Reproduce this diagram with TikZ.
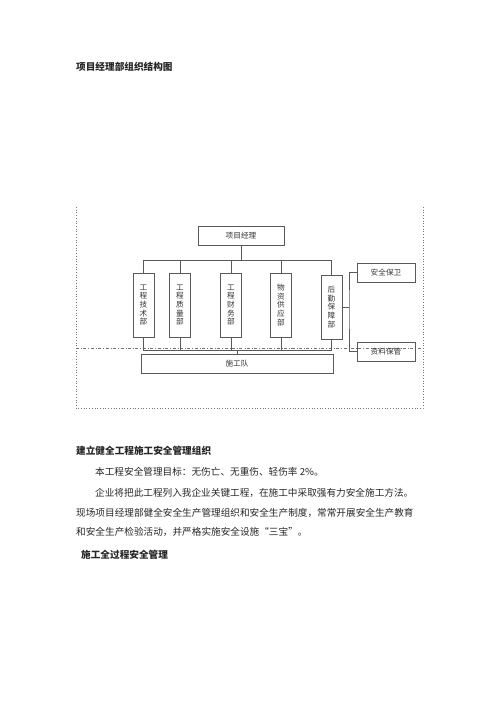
\documentclass[tikz,border=0pt]{standalone}
\usepackage{fontspec}
\setmainfont{Noto Sans CJK SC}
\begin{document}
\begin{tikzpicture}[x=0.35mm,y=-0.35mm,
    box/.style={draw=black!65, line width=0.6pt, inner sep=0pt, font=\fontsize{7.6}{8.7}\selectfont, text=black!80},
    deptbox/.style={box, minimum width=7.35mm, minimum height=22.4mm, align=center},
    wide/.style={box, minimum height=6.65mm},
    link/.style={draw=black!65, line width=0.6pt},
    body/.style={anchor=west, inner sep=0pt, font=\fontsize{9.6}{12}\selectfont, text=black!85},
    head/.style={body, font=\fontsize{9.6}{12}\selectfont\bfseries}]
    \useasboundingbox (0,0) rectangle (500,707);
    \node[head] (title) at (76,67) {项目经理部组织结构图};
    % frame
    \draw[black!55, dotted, line width=0.7pt] (76,207) -- (76,408) -- (423,408) -- (423,207);
    \draw[black!55, dash dot, line width=0.6pt] (76,348) -- (423,348);
    \node[wide, minimum width=30.1mm] (pm) at (241,235.5) {项目经理};
    \node[deptbox] (d1) at (143.5,305) {工\\程\\技\\术\\部};
    \node[deptbox] (d2) at (180,305) {工\\程\\质\\量\\部};
    \node[deptbox] (d3) at (231,305) {工\\程\\财\\务\\部};
    \node[deptbox] (d4) at (281,305) {物\\资\\供\\应\\部};
    \node[deptbox] (d5) at (331.5,307) {后\\勤\\保\\障\\部};
    \node[wide, minimum width=67.2mm] (team) at (237,363.5) {施工队};
    \node[wide, minimum width=20.3mm] (guard) at (386,272.5) {安全保卫};
    \node[wide, minimum width=20.3mm] (files) at (386,351.5) {资料保管};
    \coordinate (hub) at (241,260);
    \coordinate (low) at (237,350);
    \coordinate (rj) at (349,307);
    \draw[link] (pm) -- (hub);
    \foreach \d in {d1,d2,d3,d4,d5}{
        \draw[link] (\d.north) |- (hub);
        \draw[link] (\d.south) |- (low);
    }
    \draw[link] (low) -- (team);
    \draw[link] (d5.east) -- (rj);
    \draw[link] (guard.west) -| (rj) |- (files.west);
    % text below
    \node[head] (sec1) at (76,451) {建立健全工程施工安全管理组织};
    \node[body] (p1) at (95,472) {本工程安全管理目标：无伤亡、无重伤、轻伤率 2\%。};
    \node[body] (p2) at (95,493) {企业将把此工程列入我企业关键工程，在施工中采取强有力安全施工方法。};
    \node[body] (p3) at (76,513) {现场项目经理部健全安全生产管理组织和安全生产制度，常常开展安全生产教育};
    \node[body] (p4) at (76,532) {和安全生产检验活动，并严格实施安全设施“三宝”。};
    \node[head] (sec2) at (81,555) {施工全过程安全管理};
\end{tikzpicture}
\end{document}
